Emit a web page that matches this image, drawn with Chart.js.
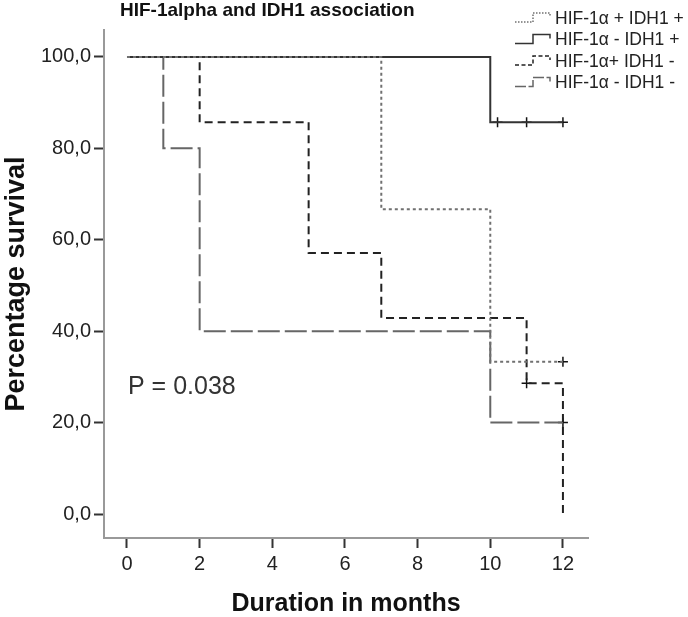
<!DOCTYPE html>
<html>
<head>
<meta charset="utf-8">
<style>
  html, body { margin: 0; padding: 0; background: #fff; }
  #wrap { width: 688px; height: 617px; position: relative; }
</style>
<script src="https://cdn.jsdelivr.net/npm/chart.js@4.4.1/dist/chart.umd.min.js"></script>
</head>
<body>
<div id="wrap"><canvas id="kmChart" width="688" height="617"></canvas></div>
<script>
const FONT = "'Liberation Sans', Arial, Helvetica, sans-serif";

// tick labels
const xTicks = [0, 2, 4, 6, 8, 10, 12];
const yTicks = [0, 20, 40, 60, 80, 100];

// HIF-1α + IDH1 +
const posPosTime = [0, 7, 10, 12];
const posPosSurv = [100, 66.7, 33.3, 33.3];
const posPosCensTime = [12];
const posPosCensSurv = [33.3];

// HIF-1α - IDH1 +
const negPosTime = [0, 10, 12];
const negPosSurv = [100, 85.7, 85.7];
const negPosCensTime = [10.2, 11, 12];
const negPosCensSurv = [85.7, 85.7, 85.7];

// HIF-1α+ IDH1 -
const posNegTime = [0, 2, 5, 7, 11, 12];
const posNegSurv = [100, 85.7, 57.1, 42.9, 28.6, 0];
const posNegCensTime = [11];
const posNegCensSurv = [28.6];

// HIF-1α - IDH1 -
const negNegTime = [0, 1, 2, 10, 12];
const negNegSurv = [100, 80, 40, 20, 20];
const negNegCensTime = [12];
const negNegCensSurv = [20];

const groups = [
  { label: "HIF-1α + IDH1 +", time: posPosTime, surv: posPosSurv, ct: posPosCensTime, cs: posPosCensSurv, color: "#707070", dash: [3, 3] },
  { label: "HIF-1α - IDH1 +", time: negPosTime, surv: negPosSurv, ct: negPosCensTime, cs: negPosCensSurv, color: "#333333", dash: [] },
  { label: "HIF-1α+ IDH1 -", time: posNegTime, surv: posNegSurv, ct: posNegCensTime, cs: posNegCensSurv, color: "#222222", dash: [8, 5] },
  { label: "HIF-1α - IDH1 -", time: negNegTime, surv: negNegSurv, ct: negNegCensTime, cs: negNegCensSurv, color: "#666666", dash: [22, 5] },
];

const toPoints = (xs, ys) => xs.map((x, i) => ({ x: x, y: ys[i] }));

const datasets = [];
groups.forEach((g) => {
  datasets.push({
    label: g.label,
    data: toPoints(g.time, g.surv),
    stepped: "before",
    borderColor: g.color,
    borderWidth: 2,
    borderDash: g.dash,
    pointRadius: 0,
    fill: false,
  });
});
groups.forEach((g) => {
  datasets.push({
    label: g.label + " censored",
    data: toPoints(g.ct, g.cs),
    showLine: false,
    pointStyle: "cross",
    pointRadius: 5,
    borderColor: "#111",
    borderWidth: 1.5,
  });
});

// title, legend and p value text
const extraText = {
  id: "extraText",
  afterDraw(chart) {
    const ctx = chart.ctx;
    ctx.save();
    ctx.fillStyle = "#111";
    ctx.textBaseline = "middle";
    ctx.font = "bold 19px " + FONT;
    ctx.textAlign = "left";
    ctx.fillText("HIF-1alpha and IDH1 association", 120, 11);

    ctx.font = "25px " + FONT;
    ctx.fillStyle = "#333";
    ctx.fillText("P = 0.038", 128, 387);

    ctx.font = "17.5px " + FONT;
    groups.forEach((g, i) => {
      const y = 18 + i * 21.5;
      ctx.strokeStyle = g.color;
      ctx.lineWidth = 1.5;
      ctx.setLineDash(g.dash.map((d) => d / 2));
      ctx.beginPath();
      ctx.moveTo(515, y + 4);
      ctx.lineTo(533, y + 4);
      ctx.lineTo(533, y - 5);
      ctx.lineTo(550, y - 5);
      ctx.lineTo(550, y - 1);
      ctx.stroke();
      ctx.setLineDash([]);
      ctx.fillStyle = "#222";
      ctx.fillText(g.label, 555, y + 1);
    });
    ctx.restore();
  },
};

const ctx = document.getElementById("kmChart").getContext("2d");
new Chart(ctx, {
  type: "line",
  data: { datasets: datasets },
  plugins: [extraText],
  options: {
    responsive: false,
    animation: false,
    layout: { padding: { top: 30, right: 100, left: 0, bottom: 0 } },
    plugins: {
      legend: { display: false },
      tooltip: { enabled: false },
      title: { display: false },
    },
    scales: {
      x: {
        type: "linear",
        min: -0.633,
        max: 12.69,
        afterBuildTicks: (scale) => {
          scale.ticks = xTicks.map((v) => ({ value: v }));
        },
        afterFit: (scale) => {
          scale.height = 79;
        },
        grid: {
          drawOnChartArea: false,
          drawTicks: true,
          tickLength: 10,
          tickColor: "#333",
          tickWidth: 2,
        },
        border: { color: "#999", width: 2 },
        ticks: {
          font: { family: FONT, size: 20 },
          color: "#222",
          padding: 4,
          maxRotation: 0,
        },
        title: {
          display: true,
          text: "Duration in months",
          font: { family: FONT, size: 25, weight: "bold", lineHeight: 1.0 },
          color: "#111",
          padding: { top: 0, bottom: 0 },
        },
      },
      y: {
        type: "linear",
        min: -5.25,
        max: 105.9,
        afterBuildTicks: (scale) => {
          scale.ticks = yTicks.map((v) => ({ value: v }));
        },
        afterFit: (scale) => {
          scale.width = 104;
        },
        grid: {
          drawOnChartArea: false,
          drawTicks: true,
          tickLength: 10,
          tickColor: "#333",
          tickWidth: 2,
        },
        border: { color: "#999", width: 2 },
        ticks: {
          font: { family: FONT, size: 20 },
          color: "#222",
          padding: 3,
          callback: (v) => v.toFixed(1).replace(".", ","),
        },
        title: {
          display: true,
          text: "Percentage survival",
          font: { family: FONT, size: 27, weight: "bold" },
          color: "#111",
          padding: { top: 0, bottom: 0 },
        },
      },
    },
  },
});
</script>
</body>
</html>
